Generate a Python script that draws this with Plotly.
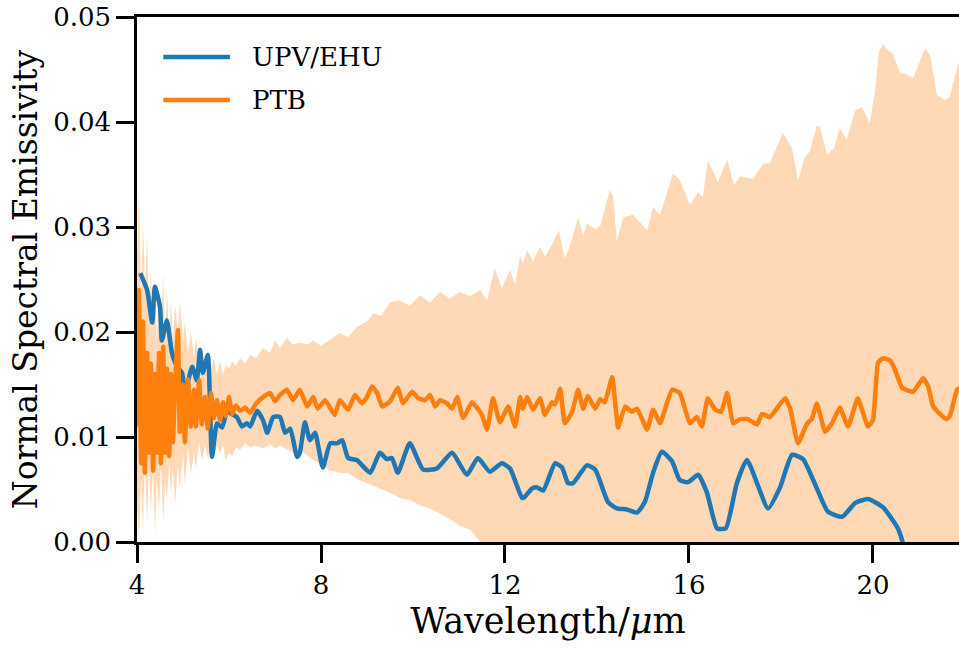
import plotly.graph_objects as go

# ---------------- data ----------------
upv_x = [4.07, 4.22, 4.33, 4.39, 4.50, 4.54, 4.65, 4.76, 4.87, 4.98, 5.04, 5.20, 5.30, 5.37, 5.43, 5.54,
         5.63, 5.74, 5.85, 5.96, 6.02, 6.17, 6.28, 6.39, 6.46, 6.61, 6.74, 6.83, 6.96, 7.11, 7.22, 7.33,
         7.48, 7.54, 7.65, 7.76, 7.87, 8.04, 8.20, 8.35, 8.46, 8.59, 8.78, 9.07, 9.28, 9.43, 9.54, 9.67,
         9.93, 10.22, 10.52, 10.85, 11.17, 11.41, 11.67, 11.93, 12.11, 12.37, 12.43, 12.59, 12.70, 12.83,
         13.09, 13.24, 13.37, 13.48, 13.78, 13.96, 14.24, 14.43, 14.65, 14.87, 15.04, 15.22, 15.41, 15.63,
         15.80, 15.98, 16.20, 16.39, 16.61, 16.80, 17.04, 17.26, 17.72, 17.98, 18.24, 18.48, 18.78, 19.02,
         19.33, 19.61, 19.89, 20.22, 20.54, 20.65, 20.80]
upv_y = [0.0256, 0.0240, 0.0209, 0.0243, 0.0224, 0.0192, 0.0211, 0.0180, 0.0167, 0.0161, 0.0142, 0.0167,
         0.0154, 0.0183, 0.0161, 0.0178, 0.0081, 0.0113, 0.0109, 0.0126, 0.0123, 0.0119, 0.0110, 0.0113,
         0.0110, 0.0125, 0.0116, 0.0104, 0.0119, 0.0119, 0.0104, 0.0108, 0.0081, 0.0085, 0.0114, 0.0097,
         0.0104, 0.0071, 0.0094, 0.0094, 0.0097, 0.0080, 0.0078, 0.0066, 0.0085, 0.0079, 0.0080, 0.0066,
         0.0094, 0.0069, 0.0070, 0.0085, 0.0064, 0.0080, 0.0067, 0.0075, 0.0070, 0.0042, 0.0043, 0.0051,
         0.0052, 0.0049, 0.0075, 0.0071, 0.0056, 0.0056, 0.0073, 0.0069, 0.0038, 0.0032, 0.0031, 0.0028,
         0.0038, 0.0066, 0.0086, 0.0077, 0.0059, 0.0057, 0.0064, 0.0047, 0.0013, 0.0013, 0.0056, 0.0078,
         0.0032, 0.0052, 0.0083, 0.0079, 0.0051, 0.0029, 0.0024, 0.0037, 0.0041, 0.0033, 0.0013, -0.0001,
         -0.0030]

ptb_x = [4.00, 4.04, 4.09, 4.13, 4.17, 4.22, 4.26, 4.30, 4.35, 4.39, 4.43, 4.48, 4.52, 4.57, 4.61, 4.65,
         4.70, 4.74, 4.78, 4.83, 4.89, 4.93, 5.00, 5.04, 5.11, 5.17, 5.24, 5.28, 5.35, 5.41, 5.48, 5.54,
         5.61, 5.67, 5.74, 5.80, 5.87, 5.93, 6.00, 6.07, 6.15, 6.24, 6.35, 6.46, 6.59, 6.74, 6.89, 7.00,
         7.11, 7.26, 7.39, 7.54, 7.70, 7.83, 7.93, 8.09, 8.30, 8.41, 8.59, 8.74, 8.89, 9.00, 9.11, 9.22,
         9.33, 9.50, 9.67, 9.78, 9.98, 10.11, 10.26, 10.37, 10.48, 10.59, 10.74, 10.85, 10.96, 11.09,
         11.28, 11.39, 11.50, 11.61, 11.74, 11.89, 12.07, 12.22, 12.33, 12.39, 12.48, 12.61, 12.76, 12.87,
         13.02, 13.09, 13.20, 13.30, 13.46, 13.59, 13.70, 13.80, 13.96, 14.07, 14.17, 14.33, 14.46, 14.61,
         14.76, 14.87, 15.09, 15.22, 15.37, 15.63, 15.80, 16.02, 16.17, 16.28, 16.41, 16.57, 16.70, 16.83,
         16.96, 17.11, 17.28, 17.48, 17.59, 17.76, 18.09, 18.20, 18.37, 18.57, 18.67, 18.78, 18.96, 19.11,
         19.28, 19.46, 19.67, 19.89, 20.00, 20.11, 20.22, 20.37, 20.48, 20.63, 20.87, 21.09, 21.20, 21.30,
         21.41, 21.59, 21.67, 21.83, 21.93]
ptb_y = [0.0110, 0.0240, 0.0075, 0.0210, 0.0066, 0.0180, 0.0085, 0.0170, 0.0068, 0.0160, 0.0085, 0.0180,
         0.0075, 0.0186, 0.0085, 0.0165, 0.0082, 0.0160, 0.0095, 0.0150, 0.0202, 0.0105, 0.0150, 0.0095,
         0.0155, 0.0110, 0.0145, 0.0110, 0.0154, 0.0112, 0.0138, 0.0108, 0.0142, 0.0118, 0.0135, 0.0116,
         0.0133, 0.0120, 0.0138, 0.0122, 0.0130, 0.0125, 0.0128, 0.0123, 0.0132, 0.0138, 0.0142, 0.0134,
         0.0140, 0.0145, 0.0135, 0.0145, 0.0129, 0.0138, 0.0127, 0.0135, 0.0121, 0.0135, 0.0126, 0.0140,
         0.0132, 0.0138, 0.0148, 0.0142, 0.0129, 0.0134, 0.0147, 0.0132, 0.0143, 0.0137, 0.0135, 0.0140,
         0.0129, 0.0135, 0.0132, 0.0127, 0.0138, 0.0118, 0.0133, 0.0128, 0.0121, 0.0107, 0.0137, 0.0114,
         0.0129, 0.0110, 0.0138, 0.0127, 0.0138, 0.0126, 0.0137, 0.0121, 0.0133, 0.0131, 0.0146, 0.0113,
         0.0124, 0.0145, 0.0127, 0.0139, 0.0127, 0.0136, 0.0133, 0.0157, 0.0109, 0.0129, 0.0124, 0.0127,
         0.0107, 0.0126, 0.0113, 0.0145, 0.0142, 0.0113, 0.0119, 0.0110, 0.0137, 0.0126, 0.0124, 0.0142,
         0.0113, 0.0117, 0.0117, 0.0112, 0.0122, 0.0119, 0.0137, 0.0127, 0.0094, 0.0113, 0.0117, 0.0132,
         0.0105, 0.0113, 0.0128, 0.0110, 0.0137, 0.0110, 0.0116, 0.0171, 0.0175, 0.0173, 0.0164, 0.0147,
         0.0143, 0.0156, 0.0148, 0.0130, 0.0124, 0.0117, 0.0120, 0.0145, 0.0147]

band_x = [4.00, 4.04, 4.09, 4.13, 4.17, 4.22, 4.26, 4.30, 4.35, 4.39, 4.43, 4.48, 4.52, 4.57, 4.61, 4.65,
          4.70, 4.74, 4.78, 4.83, 4.89, 4.93, 5.00, 5.04, 5.11, 5.17, 5.24, 5.28, 5.35, 5.41, 5.48, 5.54,
          5.61, 5.67, 5.74, 5.80, 5.87, 5.93, 6.00, 6.07, 6.15, 6.24, 6.35, 6.46, 6.59, 6.74, 6.89, 7.00,
          7.11, 7.26, 7.39, 7.54, 7.70, 7.83, 8.00, 8.20, 8.41, 8.59, 8.78, 9.00, 9.15, 9.30, 9.50, 9.72,
          9.93, 10.15, 10.37, 10.59, 10.80, 11.02, 11.24, 11.46, 11.61, 11.78, 11.93, 12.11, 12.22, 12.33,
          12.39, 12.48, 12.61, 12.76, 12.87, 13.02, 13.17, 13.30, 13.41, 13.59, 13.70, 13.78, 13.96, 14.07,
          14.28, 14.35, 14.43, 14.57, 14.78, 15.09, 15.22, 15.37, 15.52, 15.65, 15.80, 16.02, 16.20, 16.30,
          16.41, 16.63, 16.83, 16.98, 17.11, 17.39, 17.61, 17.76, 18.04, 18.24, 18.37, 18.52, 18.63, 18.78,
          18.85, 19.00, 19.15, 19.28, 19.43, 19.61, 19.76, 19.93, 20.04, 20.13, 20.22, 20.33, 20.43, 20.59,
          20.70, 20.87, 21.13, 21.24, 21.39, 21.57, 21.67, 21.85, 21.95]
band_upper = [0.0270, 0.0333, 0.0220, 0.0310, 0.0240, 0.0290, 0.0210, 0.0260, 0.0200, 0.0250, 0.0190,
              0.0240, 0.0200, 0.0255, 0.0190, 0.0240, 0.0190, 0.0230, 0.0190, 0.0225, 0.0200, 0.0230,
              0.0190, 0.0210, 0.0180, 0.0200, 0.0175, 0.0195, 0.0170, 0.0185, 0.0165, 0.0180, 0.0165,
              0.0175, 0.0160, 0.0172, 0.0160, 0.0168, 0.0165, 0.0172, 0.0168, 0.0175, 0.0170, 0.0178,
              0.0175, 0.0185, 0.0180, 0.0192, 0.0185, 0.0194, 0.0188, 0.0190, 0.0188, 0.0192, 0.0187,
              0.0193, 0.0199, 0.0195, 0.0205, 0.0210, 0.0218, 0.0215, 0.0228, 0.0230, 0.0225, 0.0235,
              0.0228, 0.0238, 0.0232, 0.0238, 0.0234, 0.0240, 0.0230, 0.0261, 0.0242, 0.0259, 0.0245,
              0.0273, 0.0265, 0.0278, 0.0267, 0.0281, 0.0272, 0.0283, 0.0297, 0.0270, 0.0282, 0.0309,
              0.0292, 0.0303, 0.0298, 0.0301, 0.0335, 0.0330, 0.0286, 0.0309, 0.0312, 0.0297, 0.0319,
              0.0311, 0.0332, 0.0351, 0.0345, 0.0321, 0.0333, 0.0328, 0.0363, 0.0343, 0.0364, 0.0340,
              0.0348, 0.0346, 0.0360, 0.0361, 0.0390, 0.0375, 0.0344, 0.0367, 0.0372, 0.0397, 0.0395,
              0.0369, 0.0375, 0.0394, 0.0383, 0.0411, 0.0414, 0.0399, 0.0428, 0.0467, 0.0474, 0.0468,
              0.0465, 0.0447, 0.0446, 0.0442, 0.0470, 0.0464, 0.0426, 0.0421, 0.0424, 0.0455, 0.0458]
band_lower = [0.0040, 0.0000, 0.0060, 0.0010, 0.0080, 0.0020, 0.0075, 0.0030, 0.0070, 0.0005, 0.0060,
              0.0030, 0.0075, 0.0020, 0.0060, 0.0040, 0.0075, 0.0045, 0.0070, 0.0037, 0.0075, 0.0050,
              0.0085, 0.0055, 0.0090, 0.0065, 0.0085, 0.0070, 0.0095, 0.0078, 0.0092, 0.0080, 0.0095,
              0.0082, 0.0092, 0.0085, 0.0092, 0.0078, 0.0085, 0.0082, 0.0090, 0.0088, 0.0094, 0.0090,
              0.0092, 0.0089, 0.0093, 0.0089, 0.0092, 0.0088, 0.0085, 0.0088, 0.0082, 0.0078, 0.0074,
              0.0068, 0.0066, 0.0066, 0.0060, 0.0056, 0.0054, 0.0051, 0.0047, 0.0042, 0.0040, 0.0035,
              0.0032, 0.0027, 0.0022, 0.0015, 0.0012, 0.0000, -0.0010, -0.0020, -0.0030, -0.0040,
              -0.0045, -0.0050, -0.0050, -0.0060, -0.0070, -0.0070, -0.0080, -0.0080, -0.0090, -0.0090,
              -0.0100, -0.0100, -0.0110, -0.0110, -0.0120, -0.0120, -0.0130, -0.0130, -0.0130, -0.0140,
              -0.0140, -0.0150, -0.0150, -0.0160, -0.0160, -0.0170, -0.0170, -0.0180, -0.0180, -0.0180,
              -0.0190, -0.0190, -0.0200, -0.0200, -0.0210, -0.0210, -0.0220, -0.0220, -0.0230, -0.0230,
              -0.0240, -0.0240, -0.0250, -0.0250, -0.0250, -0.0260, -0.0260, -0.0270, -0.0270, -0.0280,
              -0.0280, -0.0290, -0.0290, -0.0300, -0.0300, -0.0300, -0.0310, -0.0310, -0.0310, -0.0320,
              -0.0320, -0.0330, -0.0330, -0.0340, -0.0340, -0.0350, -0.0350]

x_ticks = [4, 8, 12, 16, 20]
y_ticks = [0.00, 0.01, 0.02, 0.03, 0.04, 0.05]
series_names = ["UPV/EHU", "PTB"]

BLUE = "#1f77b4"
ORANGE = "#ff7f0e"
FONT = "'DejaVu Serif', serif"

fig = go.Figure()
fig.add_trace(go.Scatter(x=band_x, y=band_lower, mode="lines", line=dict(width=0, color=ORANGE),
                         showlegend=False, hoverinfo="skip"))
fig.add_trace(go.Scatter(x=band_x, y=band_upper, mode="lines", line=dict(width=0, color=ORANGE),
                         fill="tonexty", fillcolor="rgba(255,127,14,0.3)", showlegend=False,
                         hoverinfo="skip"))
fig.add_trace(go.Scatter(x=upv_x, y=upv_y, mode="lines", name=series_names[0],
                         line=dict(color=BLUE, width=4.5, shape="spline", smoothing=0.5),
                         showlegend=False))
fig.add_trace(go.Scatter(x=ptb_x, y=ptb_y, mode="lines", name=series_names[1],
                         line=dict(color=ORANGE, width=4.5, shape="spline", smoothing=0.4),
                         showlegend=False))

# manual legend (long line samples as in the reference)
legend_rows = [(0.924, BLUE, series_names[0]), (0.842, ORANGE, series_names[1])]
shapes = []
annotations = []
for yy, col, name in legend_rows:
    shapes.append(dict(type="line", xref="paper", yref="paper", x0=0.032, x1=0.113, y0=yy, y1=yy,
                       line=dict(color=col, width=4.5)))
    annotations.append(dict(xref="paper", yref="paper", x=0.138, y=yy, xanchor="left",
                            yanchor="middle", text=name, showarrow=False,
                            font=dict(family=FONT, size=26, color="black")))

fig.update_layout(
    width=959, height=649,
    margin=dict(l=137, r=0, t=17, b=107),
    paper_bgcolor="white", plot_bgcolor="white",
    font=dict(family=FONT, color="black"),
    shapes=shapes, annotations=annotations,
    showlegend=False,
)
fig.update_xaxes(
    range=[4, 21.87], tickvals=x_ticks, ticktext=[str(v) for v in x_ticks],
    ticks="outside", ticklen=18, tickwidth=2.5, tickcolor="black",
    showline=True, linewidth=2.5, linecolor="black", mirror=True,
    showgrid=False, zeroline=False,
    tickfont=dict(family=FONT, size=26, color="black"),
    title=dict(text="Wavelength/<i>μ</i>m", font=dict(family=FONT, size=35, color="black"), standoff=10),
)
fig.update_yaxes(
    range=[0, 0.05], tickvals=y_ticks, ticktext=[f"{v:.2f}" for v in y_ticks],
    ticks="outside", ticklen=18, tickwidth=2.5, tickcolor="black",
    showline=True, linewidth=2.5, linecolor="black", mirror=False,
    showgrid=False, zeroline=False,
    tickfont=dict(family=FONT, size=26, color="black"),
    title=dict(text="Normal Spectral Emissivity", font=dict(family=FONT, size=33, color="black"), standoff=6),
)

fig.write_html("out.html")
